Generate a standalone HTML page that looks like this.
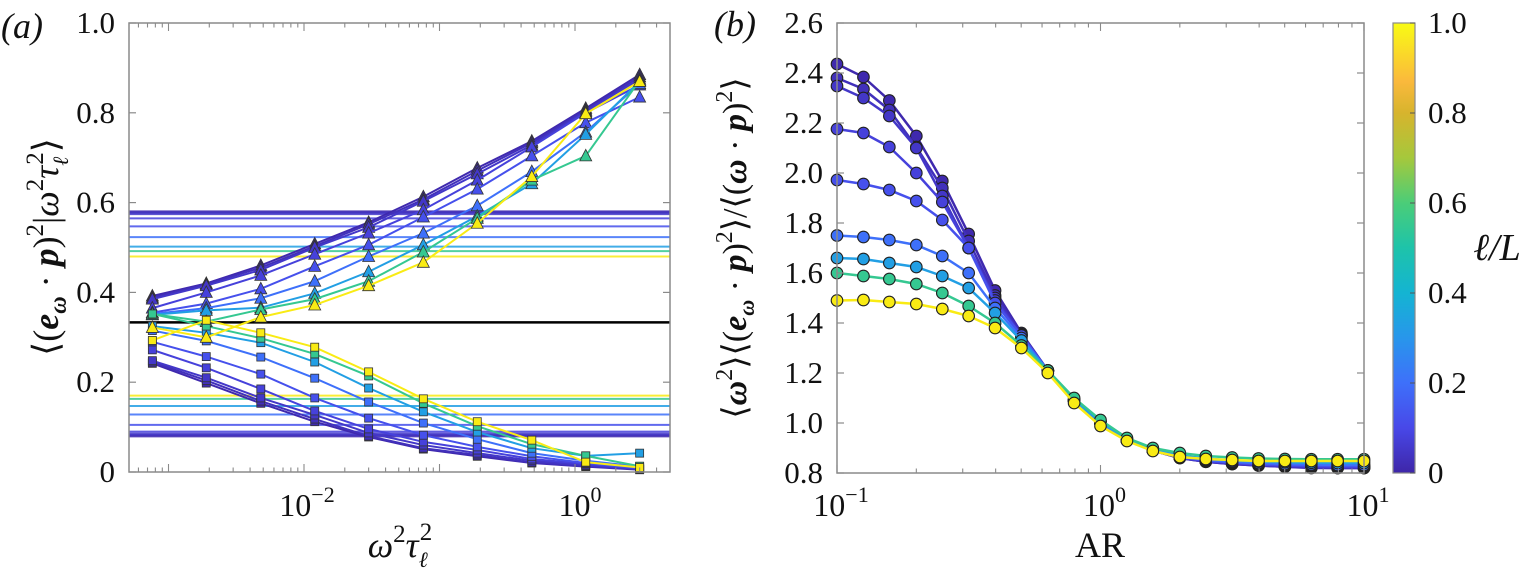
<!DOCTYPE html>
<html><head><meta charset="utf-8"><style>
html,body{margin:0;padding:0;background:#fff;}
svg{display:block;}
svg text{font-family:"Liberation Serif","Times New Roman",serif;}
</style></head><body>
<svg id="fig" width="1527" height="580" viewBox="0 0 1527 580" xmlns="http://www.w3.org/2000/svg" font-family="Liberation Serif, serif">
<defs>
<linearGradient id="cbgrad" x1="0" y1="1" x2="0" y2="0">
<stop offset="0" stop-color="rgb(62,38,168)"/>
<stop offset="0.1" stop-color="rgb(72,72,232)"/>
<stop offset="0.2" stop-color="rgb(62,112,250)"/>
<stop offset="0.3" stop-color="rgb(40,150,235)"/>
<stop offset="0.4" stop-color="rgb(20,180,210)"/>
<stop offset="0.5" stop-color="rgb(30,195,170)"/>
<stop offset="0.6" stop-color="rgb(75,205,120)"/>
<stop offset="0.7" stop-color="rgb(165,200,60)"/>
<stop offset="0.8" stop-color="rgb(215,180,45)"/>
<stop offset="0.87" stop-color="rgb(250,185,60)"/>
<stop offset="1" stop-color="rgb(249,251,20)"/>
</linearGradient>
</defs>
<g id="layer"></g>
</svg>
<script>
// ---------- data ----------
const seriesLL = [0.01, 0.03, 0.05, 0.08, 0.12, 0.2, 0.33, 0.55, 1.0];
const xA = [7.6e-4, 1.9e-3, 4.8e-3, 0.012, 0.030, 0.076, 0.19, 0.48, 1.2, 3.0];
const upA = [.392,.42,.46,.508,.556,.613,.677,.737,.81,.885];
const upB = [.388,.418,.455,.503,.552,.607,.671,.733,.806,.88];
const upC = [.385,.415,.45,.50,.545,.603,.664,.728,.803,.875];
const upD = [.365,.40,.438,.485,.532,.584,.65,.724,.80,.862];
const upE = [.355,.375,.408,.458,.506,.568,.63,.704,.778,.835];
const upF = [.352,.365,.387,.425,.48,.532,.593,.669,.757,.865];
const upG = [.35,.36,.366,.398,.446,.506,.57,.642,.752,.87];
const upH = [.352,.335,.362,.385,.425,.49,.565,.65,.704,.872];
const upI = [.322,.30,.345,.372,.415,.467,.554,.658,.798,.87];
const loA = [.242,.198,.153,.112,.078,.051,.035,.02,.012,.005];
const loB = [.245,.204,.158,.118,.08,.053,.038,.021,.013,.006];
const loC = [.248,.21,.165,.127,.087,.06,.042,.025,.015,.007];
const loD = [.272,.232,.185,.136,.096,.067,.049,.029,.018,.008];
const loE = [.29,.257,.218,.165,.12,.082,.056,.035,.02,.009];
const loF = [.315,.292,.256,.209,.156,.109,.073,.042,.025,.012];
const loG = [.325,.31,.288,.245,.187,.134,.089,.053,.036,.042];
const loH = [.352,.325,.298,.263,.214,.153,.102,.062,.036,.013];
const loI = [.293,.338,.31,.278,.223,.163,.112,.071,.022,.01];
const hUpper = [.58,.578,.575,.565,.547,.523,.502,.492,.48];
const hLower = [.08,.082,.085,.09,.105,.128,.147,.163,.17];
const isoLine = 1/3;
const xB = [0.1,0.126,0.158,0.2,0.251,0.316,0.398,0.501,0.631,0.794,1,1.26,1.58,2,2.51,3.16,3.98,5.01,6.31,7.94,10];
const bA = [2.436,2.384,2.29,2.148,1.968,1.756,1.53,1.36,1.21,1.09,1.00,0.93,0.89,0.86,0.845,0.836,0.83,0.825,0.82,0.82,0.82];
const bB = [2.38,2.336,2.252,2.104,1.94,1.728,1.51,1.355,1.21,1.09,1.00,0.93,0.89,0.86,0.845,0.836,0.83,0.825,0.822,0.82,0.82];
const bC = [2.348,2.30,2.228,2.10,1.908,1.70,1.50,1.35,1.21,1.09,1.00,0.93,0.89,0.862,0.847,0.838,0.832,0.827,0.824,0.822,0.822];
const bD = [2.176,2.16,2.104,2.0,1.884,1.70,1.49,1.35,1.21,1.09,1.00,0.93,0.89,0.862,0.848,0.84,0.834,0.83,0.827,0.825,0.825];
const bE = [1.972,1.956,1.932,1.888,1.812,1.70,1.48,1.35,1.21,1.09,1.00,0.93,0.89,0.864,0.85,0.842,0.836,0.832,0.83,0.828,0.828];
const bF = [1.75,1.744,1.732,1.712,1.668,1.60,1.46,1.34,1.21,1.09,1.00,0.932,0.892,0.866,0.853,0.845,0.84,0.836,0.834,0.832,0.832];
const bG = [1.66,1.656,1.64,1.624,1.588,1.54,1.44,1.33,1.21,1.09,1.005,0.935,0.895,0.87,0.858,0.85,0.846,0.843,0.841,0.84,0.84];
const bH = [1.60,1.588,1.576,1.556,1.52,1.468,1.40,1.31,1.21,1.10,1.012,0.94,0.90,0.88,0.868,0.862,0.858,0.856,0.855,0.855,0.855];
const bI = [1.49,1.492,1.484,1.476,1.456,1.428,1.38,1.30,1.20,1.08,0.988,0.928,0.888,0.864,0.856,0.852,0.848,0.848,0.848,0.848,0.848];
const yTicksA = [0,0.2,0.4,0.6,0.8,1.0];
const yTickLabelsA = ["0","0.2","0.4","0.6","0.8","1.0"];
const yTicksB = [0.8,1.0,1.2,1.4,1.6,1.8,2.0,2.2,2.4,2.6];
const yTickLabelsB = ["0.8","1.0","1.2","1.4","1.6","1.8","2.0","2.2","2.4","2.6"];
const cbTicks = [0,0.2,0.4,0.6,0.8,1.0];
const cbTickLabels = ["0","0.2","0.4","0.6","0.8","1.0"];

const upperSeries = [upA,upB,upC,upD,upE,upF,upG,upH,upI];
const lowerSeries = [loA,loB,loC,loD,loE,loF,loG,loH,loI];
const seriesB = [bA,bB,bC,bD,bE,bF,bG,bH,bI];

// ---------- scales ----------
const A = {l:129, r:670, t:23, b:472};
const B = {l:837, r:1364, t:23, b:473};
const CB = {l:1393, r:1415, t:23, b:473};
function xa(v){ return 304 + 135.5*(Math.log10(v)+2); }
function ya(v){ return A.b - (A.b-A.t)*v; }
function xb(v){ return B.l + (B.r-B.l)/2*(Math.log10(v)+1); }
function yb(v){ return B.b - (B.b-B.t)*(v-0.8)/1.8; }
function ycb(v){ return CB.b - (CB.b-CB.t)*v; }

const stops = [[0,62,38,168],[0.1,72,72,232],[0.2,62,112,250],[0.3,40,150,235],[0.4,20,180,210],[0.5,30,195,170],[0.6,75,205,120],[0.7,165,200,60],[0.8,215,180,45],[0.87,250,185,60],[1,249,235,20]];
function cmap(v){
  for(let i=1;i<stops.length;i++){
    if(v<=stops[i][0]){
      const a=stops[i-1], b=stops[i], f=(v-a[0])/(b[0]-a[0]);
      return `rgb(${Math.round(a[1]+f*(b[1]-a[1]))},${Math.round(a[2]+f*(b[2]-a[2]))},${Math.round(a[3]+f*(b[3]-a[3]))})`;
    }
  }
  return 'rgb(249,251,20)';
}

const NS='http://www.w3.org/2000/svg';
const root=document.getElementById('layer');
const FONT='"Liberation Serif", "Times New Roman", serif';
function mk(tag, attrs, parent){
  const e=document.createElementNS(NS,tag);
  for(const k in attrs) e.setAttribute(k, attrs[k]);
  (parent||root).appendChild(e);
  return e;
}
function txt(x,y,s,size,anchor,parent){
  const t=mk('text',{x:x,y:y,'font-size':size,'text-anchor':anchor||'middle',fill:'#111','font-family':FONT},parent);
  t.textContent=s;
  return t;
}
const AX='#8a8a8a';

// ---------- Panel A ----------
const gA=mk('g',{});


mk('rect',{x:A.l,y:A.t,width:A.r-A.l,height:A.b-A.t,fill:'#fff'},gA);
for(let i=0;i<hUpper.length;i++){
  const c=cmap(seriesLL[i]);
  const l1=mk('line',{x1:A.l,x2:A.r,y1:ya(hUpper[i]),y2:ya(hUpper[i]),stroke:c,'stroke-width':i<3?2.5:2,opacity:0.85},gA);
  
  
  const l2=mk('line',{x1:A.l,x2:A.r,y1:ya(hLower[i]),y2:ya(hLower[i]),stroke:c,'stroke-width':i<3?2.5:2,opacity:0.85},gA);
  
  
}
const iso=mk('line',{x1:A.l,x2:A.r,y1:ya(isoLine),y2:ya(isoLine),stroke:'#000','stroke-width':2.5},gA);


for(let s=0;s<9;s++){
  const c=cmap(seriesLL[s]);
  const up=upperSeries[s], lo=lowerSeries[s];
  const pu=mk('polyline',{points:xA.map((x,i)=>xa(x)+','+ya(up[i])).join(' '),fill:'none',stroke:c,'stroke-width':2},gA);
  
  
  const pl=mk('polyline',{points:xA.map((x,i)=>xa(x)+','+ya(lo[i])).join(' '),fill:'none',stroke:c,'stroke-width':2},gA);
  
  
  for(let i=0;i<xA.length;i++){
    const cx=xa(xA[i]), cy=ya(up[i]);
    const tr=mk('polygon',{points:`${cx},${cy-6.5} ${cx-6},${cy+5} ${cx+6},${cy+5}`,fill:c,stroke:'#333','stroke-width':0.8},gA);
    
    
    const sy=ya(lo[i]);
    const sq=mk('rect',{x:cx-4,y:sy-4,width:8,height:8,fill:c,stroke:'#333','stroke-width':0.8},gA);
    
    
  }
}
const boxA=mk('rect',{x:A.l,y:A.t,width:A.r-A.l,height:A.b-A.t,fill:'none',stroke:AX,'stroke-width':1.5},gA);


for(let i=0;i<yTicksA.length;i++){
  const y=ya(yTicksA[i]);
  mk('line',{x1:A.l,x2:A.l+7,y1:y,y2:y,stroke:AX,'stroke-width':1.2},gA);
  mk('line',{x1:A.r,x2:A.r-7,y1:y,y2:y,stroke:AX,'stroke-width':1.2},gA);
  const t=txt(A.l-14,y+10,yTickLabelsA[i],31,'end',gA);
  
  
}
for(let d=-4; d<=1; d++){
  for(let m=1;m<10;m++){
    const v=m*Math.pow(10,d);
    const x=xa(v);
    if(x<A.l+0.5||x>A.r-0.5) continue;
    const len=m===1?8:4.5;
    mk('line',{x1:x,x2:x,y1:A.b,y2:A.b-len,stroke:AX,'stroke-width':1.1},gA);
    mk('line',{x1:x,x2:x,y1:A.t,y2:A.t+len,stroke:AX,'stroke-width':1.1},gA);
  }
}
function powLabel(x,y,exp,parent,name){
  const t=mk('text',{x:x,y:y,'font-size':32,'text-anchor':'middle',fill:'#111','font-family':FONT},parent);
  
  
  const a=mk('tspan',{},t); a.textContent='10';
  const b=mk('tspan',{'font-size':22,dy:-14},t); b.textContent=exp;
  return t;
}
powLabel(307,516,'−2',gA,'x-tick-label-a');
powLabel(580,516,'0',gA,'x-tick-label-a');
{
  const t=mk('text',{x:400,y:557,'font-size':36,'text-anchor':'middle',fill:'#111','font-style':'italic','font-family':FONT},gA);
  
  
  t.innerHTML='ω<tspan dy="-15" font-size="25" font-style="normal">2</tspan><tspan dy="15">τ</tspan><tspan dy="10" font-size="22">ℓ</tspan><tspan dx="-8" dy="-27" font-size="25" font-style="normal">2</tspan>';
}
{
  const t=mk('text',{x:0,y:0,'font-size':36,'text-anchor':'middle',fill:'#111','font-family':FONT,transform:'translate(58,247) rotate(-90)'},gA);
  
  
  t.innerHTML='⟨(<tspan font-weight="bold" font-style="italic">e</tspan><tspan font-weight="bold" font-style="italic" font-size="24" dy="8">ω</tspan><tspan dy="-8"> · </tspan><tspan font-weight="bold" font-style="italic">p</tspan>)<tspan font-size="25" dy="-15">2</tspan><tspan dy="15">|</tspan><tspan font-style="italic">ω</tspan><tspan font-size="25" dy="-15">2</tspan><tspan dy="15" font-style="italic">τ</tspan><tspan font-size="22" dy="10" font-style="italic">ℓ</tspan><tspan font-size="25" dx="-8" dy="-25">2</tspan><tspan dy="15">⟩</tspan>';
}
{ const t=txt(22,38,'(a)',36,'middle'); t.setAttribute('font-style','italic');
    }

// ---------- Panel B ----------
const gB=mk('g',{});


for(let s=0;s<9;s++){
  const c=cmap(seriesLL[s]);
  const d=seriesB[s];
  const p=mk('polyline',{points:xB.map((x,i)=>xb(x)+','+yb(d[i])).join(' '),fill:'none',stroke:c,'stroke-width':2.5},gB);
  
  
  for(let i=0;i<xB.length;i++){
    const ci=mk('circle',{cx:xb(xB[i]),cy:yb(d[i]),r:5.8,fill:c,stroke:'#222','stroke-width':1.1},gB);
    
    
  }
}
const boxB=mk('rect',{x:B.l,y:B.t,width:B.r-B.l,height:B.b-B.t,fill:'none',stroke:AX,'stroke-width':1.5},gB);


for(let i=0;i<yTicksB.length;i++){
  const y=yb(yTicksB[i]);
  mk('line',{x1:B.l,x2:B.l+7,y1:y,y2:y,stroke:AX,'stroke-width':1.2},gB);
  mk('line',{x1:B.r,x2:B.r-7,y1:y,y2:y,stroke:AX,'stroke-width':1.2},gB);
  const t=txt(B.l-14,y+10,yTickLabelsB[i],31,'end',gB);
  
  
}
for(let d=-1; d<=1; d++){
  for(let m=1;m<10;m++){
    const v=m*Math.pow(10,d);
    const x=xb(v);
    if(x<B.l-0.5||x>B.r+0.5) continue;
    const len=m===1?8:4.5;
    mk('line',{x1:x,x2:x,y1:B.b,y2:B.b-len,stroke:AX,'stroke-width':1.1},gB);
    mk('line',{x1:x,x2:x,y1:B.t,y2:B.t+len,stroke:AX,'stroke-width':1.1},gB);
  }
}
powLabel(xb(0.1)+4,516,'−1',gB,'x-tick-label-b');
powLabel(xb(1)+4,516,'0',gB,'x-tick-label-b');
powLabel(xb(10)+4,516,'1',gB,'x-tick-label-b');
{ const t=txt(1100,557,'AR',36,'middle',gB);   }
{
  const t=mk('text',{x:0,y:0,'font-size':34,'text-anchor':'middle',fill:'#111','font-family':FONT,transform:'translate(746,248) rotate(-90)'},gB);
  
  
  t.innerHTML='⟨<tspan font-weight="bold" font-style="italic">ω</tspan><tspan font-size="24" dy="-14">2</tspan><tspan dy="14">⟩⟨(</tspan><tspan font-weight="bold" font-style="italic">e</tspan><tspan font-weight="bold" font-style="italic" font-size="22" dy="8">ω</tspan><tspan dy="-8"> · </tspan><tspan font-weight="bold" font-style="italic">p</tspan>)<tspan font-size="24" dy="-14">2</tspan><tspan dy="14">⟩/⟨(</tspan><tspan font-weight="bold" font-style="italic">ω</tspan> · <tspan font-weight="bold" font-style="italic">p</tspan>)<tspan font-size="24" dy="-14">2</tspan><tspan dy="14">⟩</tspan>';
}
{ const t=txt(735,36,'(b)',36,'middle'); t.setAttribute('font-style','italic');
    }

// ---------- Colorbar ----------
const gC=mk('g',{});


mk('rect',{x:CB.l,y:CB.t,width:CB.r-CB.l,height:CB.b-CB.t,fill:'url(#cbgrad)',stroke:AX,'stroke-width':1.2},gC);
for(let i=0;i<cbTicks.length;i++){
  const y=ycb(cbTicks[i]);
  mk('line',{x1:CB.r,x2:CB.r-5,y1:y,y2:y,stroke:'#555','stroke-width':1},gC);
  const t=txt(CB.r+13,y+10,cbTickLabels[i],31,'start',gC);
  
  
}
{ const t=txt(1497,260,'ℓ/L',38,'middle',gC); t.setAttribute('font-style','italic');
    }
</script>
</body></html>
